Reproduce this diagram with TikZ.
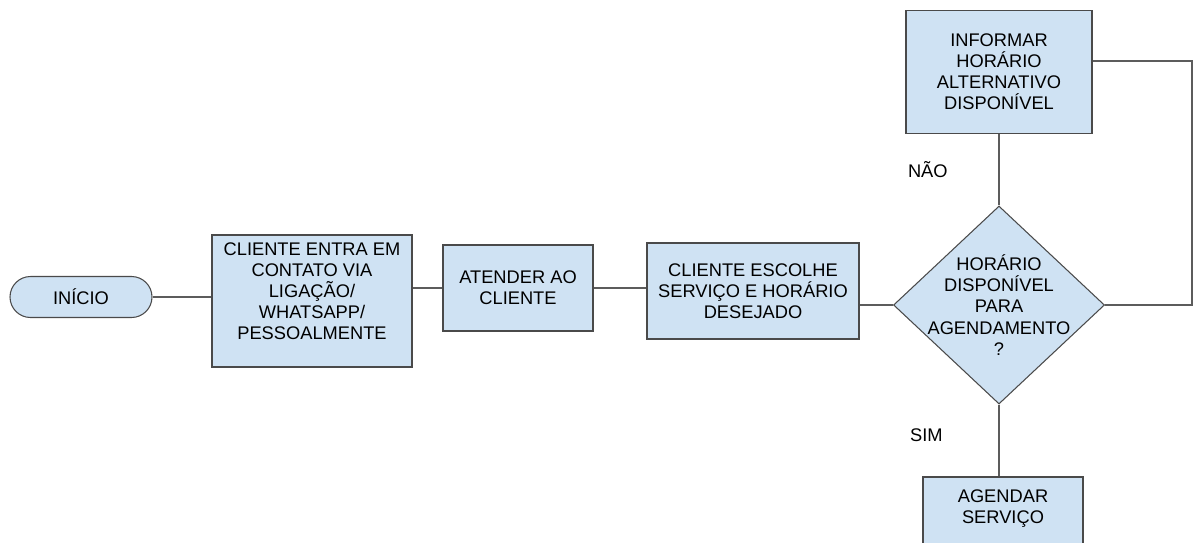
\documentclass[tikz,border=0pt]{standalone}
\usepackage{fontspec}
\setmainfont{Liberation Sans}
\usetikzlibrary{shapes.geometric}
\definecolor{caixa}{HTML}{CFE2F3}
\definecolor{borda}{HTML}{4A4A4A}
\tikzset{
  bloco/.style={draw=borda,fill=caixa,line width=0.6pt,align=center,inner sep=0pt,font=\fontsize{10.4}{12}\selectfont},
  liga/.style={draw=borda!90,line width=0.6pt},
  rotulo/.style={font=\fontsize{10.4}{12}\selectfont}
}
\begin{document}
\begin{tikzpicture}
  \clip (0,0) rectangle (23.9,10.84);
  \fill[white] (0,0) rectangle (23.9,10.84);
  \node[bloco,rounded corners=0.41cm,minimum width=2.84cm,minimum height=0.82cm] (inicio) at (1.62,4.90) {INÍCIO};
  \node[bloco,minimum width=4.0cm,minimum height=2.64cm,text depth=0.4cm] (contato) at (6.24,4.82) {CLIENTE ENTRA EM\\CONTATO VIA\\LIGAÇÃO/\\WHATSAPP/\\PESSOALMENTE};
  \node[bloco,minimum width=3.0cm,minimum height=1.72cm] (atender) at (10.36,5.08) {ATENDER AO\\CLIENTE};
  \node[bloco,minimum width=4.24cm,minimum height=1.92cm] (escolhe) at (15.06,5.02) {CLIENTE ESCOLHE\\SERVIÇO E HORÁRIO\\DESEJADO};
  \node[bloco,diamond,aspect=1.066,minimum width=4.22cm,minimum height=3.96cm,
        label={[rotulo,align=center]center:HORÁRIO\\DISPONÍVEL\\PARA\\AGENDAMENTO\\?}] (decisao) at (19.98,4.74) {};
  \node[bloco,minimum width=3.72cm,minimum height=2.46cm] (informar) at (19.98,9.40) {INFORMAR\\HORÁRIO\\ALTERNATIVO\\DISPONÍVEL};
  \node[bloco,minimum width=3.2cm,minimum height=1.72cm,text depth=0.52cm] (agendar) at (20.06,0.44) {AGENDAR\\SERVIÇO};
  \coordinate (canto) at (23.84,9.62);
  \draw[liga] (inicio.east) -- (inicio.east -| contato.west);
  \draw[liga] (atender.west -| contato.east) -- (atender.west);
  \draw[liga] (atender.east) -- (atender.east -| escolhe.west);
  \draw[liga] (decisao.west -| escolhe.east) -- (decisao.west);
  \draw[liga] (informar.south) -- node[rotulo,midway,left=0.9cm]{NÃO} (decisao.north);
  \draw[liga] (decisao.south) -- node[rotulo,midway,left=1.0cm,yshift=0.1cm]{SIM} (agendar.north -| decisao.south);
  \draw[liga] (decisao.east) -- (decisao.east -| canto) -- (canto) -- (informar.east |- canto);
\end{tikzpicture}
\end{document}
